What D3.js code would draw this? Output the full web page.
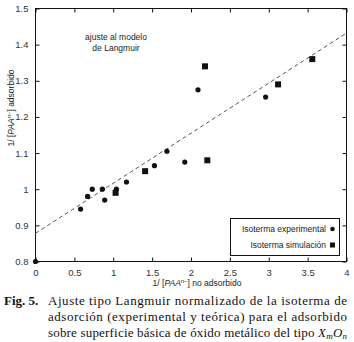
<!DOCTYPE html>
<meta charset="utf-8">
<script src="https://d3js.org/d3.v7.min.js"></script>
<style>
  body { margin: 0; background: #fff; }
  svg text { font-family: "Liberation Sans", Arial, sans-serif; }
  svg text.cap { font-family: "Liberation Serif", "Times New Roman", serif; }
</style>
<body>
<div id="chart"></div>
<script>
// data
var expX = [0, 0.58, 0.67, 0.73, 0.86, 0.89, 1.04, 1.17, 1.53, 1.69, 1.92, 2.09, 2.96];
var expY = [0.8, 0.945, 0.98, 1.0, 1.0, 0.97, 1.0, 1.02, 1.065, 1.105, 1.075, 1.275, 1.255];
var simX = [1.03, 1.41, 2.18, 2.21, 3.12, 3.56];
var simY = [0.99, 1.05, 1.34, 1.08, 1.29, 1.36];
var fitX = [0, 4];
var fitY = [0.878, 1.432];
var xTicks = [0, 0.5, 1, 1.5, 2, 2.5, 3, 3.5, 4];
var yTicks = [0.8, 0.9, 1, 1.1, 1.2, 1.3, 1.4, 1.5];

var W = 354, H = 342;
var svg = d3.select("#chart").append("svg")
    .attr("width", W).attr("height", H);

var x = d3.scaleLinear().domain([0, 4]).range([35.5, 346.5]);
var y = d3.scaleLinear().domain([0.8, 1.5]).range([261.5, 8.5]);

// frame
svg.append("rect")
    .attr("x", x(0)).attr("y", y(1.5))
    .attr("width", x(4) - x(0)).attr("height", y(0.8) - y(1.5))
    .attr("fill", "none").attr("stroke", "#111").attr("stroke-width", 1);

// axes with inward ticks
function tickFmt(d) { return String(d); }
svg.append("g").attr("transform", "translate(0," + y(0.8) + ")")
    .call(d3.axisBottom(x).tickValues(xTicks).tickSize(-4).tickPadding(8).tickFormat(tickFmt))
    .call(function(g) { g.select(".domain").remove(); });
svg.append("g").attr("transform", "translate(0," + y(1.5) + ")")
    .call(d3.axisTop(x).tickValues(xTicks).tickSize(-4).tickFormat(""))
    .call(function(g) { g.select(".domain").remove(); });
svg.append("g").attr("transform", "translate(" + x(0) + ",0)")
    .call(d3.axisLeft(y).tickValues(yTicks).tickSize(-4).tickPadding(7).tickFormat(tickFmt))
    .call(function(g) { g.select(".domain").remove(); });
svg.append("g").attr("transform", "translate(" + x(4) + ",0)")
    .call(d3.axisRight(y).tickValues(yTicks).tickSize(-4).tickFormat(""))
    .call(function(g) { g.select(".domain").remove(); });

svg.selectAll(".tick text")
    .attr("font-family", "Liberation Sans, Arial, sans-serif")
    .attr("font-size", 9.5).attr("fill", "#333");
svg.selectAll(".tick line").attr("stroke", "#111");

// fitted Langmuir line
svg.append("path")
    .datum(d3.zip(fitX, fitY))
    .attr("fill", "none").attr("stroke", "#555").attr("stroke-width", 1)
    .attr("stroke-dasharray", "4,3")
    .attr("d", d3.line().x(function(d) { return x(d[0]); }).y(function(d) { return y(d[1]); }));

// experimental points
svg.selectAll(".exp").data(d3.zip(expX, expY)).enter().append("circle")
    .attr("cx", function(d) { return x(d[0]); })
    .attr("cy", function(d) { return y(d[1]); })
    .attr("r", 2.6).attr("fill", "#111");

// simulation points
svg.selectAll(".sim").data(d3.zip(simX, simY)).enter().append("rect")
    .attr("x", function(d) { return x(d[0]) - 3; })
    .attr("y", function(d) { return y(d[1]) - 3; })
    .attr("width", 6).attr("height", 6).attr("fill", "#111");

// annotation
svg.append("text").attr("x", 116).attr("y", 40).attr("text-anchor", "middle")
    .attr("font-size", 8.5).attr("fill", "#222").text("ajuste al modelo");
svg.append("text").attr("x", 116).attr("y", 51).attr("text-anchor", "middle")
    .attr("font-size", 8.5).attr("fill", "#222").text("de Langmuir");

// legend
var lg = svg.append("g");
lg.append("rect").attr("x", 230.5).attr("y", 218.5).attr("width", 109).attr("height", 37)
    .attr("fill", "#fff").attr("stroke", "#111");
lg.append("text").attr("x", 326).attr("y", 232).attr("text-anchor", "end")
    .attr("font-size", 8.5).attr("fill", "#222").text("Isoterma experimental");
lg.append("circle").attr("cx", 332.5).attr("cy", 229).attr("r", 2.3).attr("fill", "#111");
lg.append("text").attr("x", 326).attr("y", 248).attr("text-anchor", "end")
    .attr("font-size", 8.5).attr("fill", "#222").text("Isoterma simulación");
lg.append("rect").attr("x", 330).attr("y", 242.5).attr("width", 5).attr("height", 5).attr("fill", "#111");

// axis titles
function pTitle(sel, pre, post) {
  sel.append("tspan").text(pre + "[");
  sel.append("tspan").attr("font-style", "italic").text("PAA");
  sel.append("tspan").attr("font-size", 6).attr("dy", -3).text("n\u2013");
  sel.append("tspan").attr("dy", 3).text("] " + post);
}
var xt = svg.append("text").attr("x", 197).attr("y", 286).attr("text-anchor", "middle")
    .attr("font-size", 8.5).attr("fill", "#222");
pTitle(xt, "1/ ", "no adsorbido");
var yt = svg.append("text").attr("transform", "translate(14,108) rotate(-90)")
    .attr("text-anchor", "middle").attr("font-size", 8.5).attr("fill", "#222");
pTitle(yt, "1/ ", "adsorbido");

// caption
var cap = svg.append("g").attr("font-size", 13).attr("fill", "#111");
cap.append("text").attr("class", "cap").attr("x", 4).attr("y", 305)
    .attr("font-weight", "bold").text("Fig. 5.");
function capLine(yy, fn) {
  var t = cap.append("text").attr("class", "cap").attr("x", 48).attr("y", yy)
      .attr("textLength", 299).attr("lengthAdjust", "spacing");
  fn(t);
}
capLine(305, function(t) { t.text("Ajuste tipo Langmuir normalizado de la isoterma de"); });
capLine(321, function(t) { t.text("adsorción (experimental y teórica) para el adsorbido"); });
capLine(337, function(t) {
  t.append("tspan").text("sobre superficie básica de óxido metálico del tipo ");
  t.append("tspan").attr("font-style", "italic").text("X");
  t.append("tspan").attr("font-style", "italic").attr("font-size", 9).attr("dy", 2).text("m");
  t.append("tspan").attr("font-style", "italic").attr("dy", -2).text("O");
  t.append("tspan").attr("font-style", "italic").attr("font-size", 9).attr("dy", 2).text("n");
});
</script>
</body>
